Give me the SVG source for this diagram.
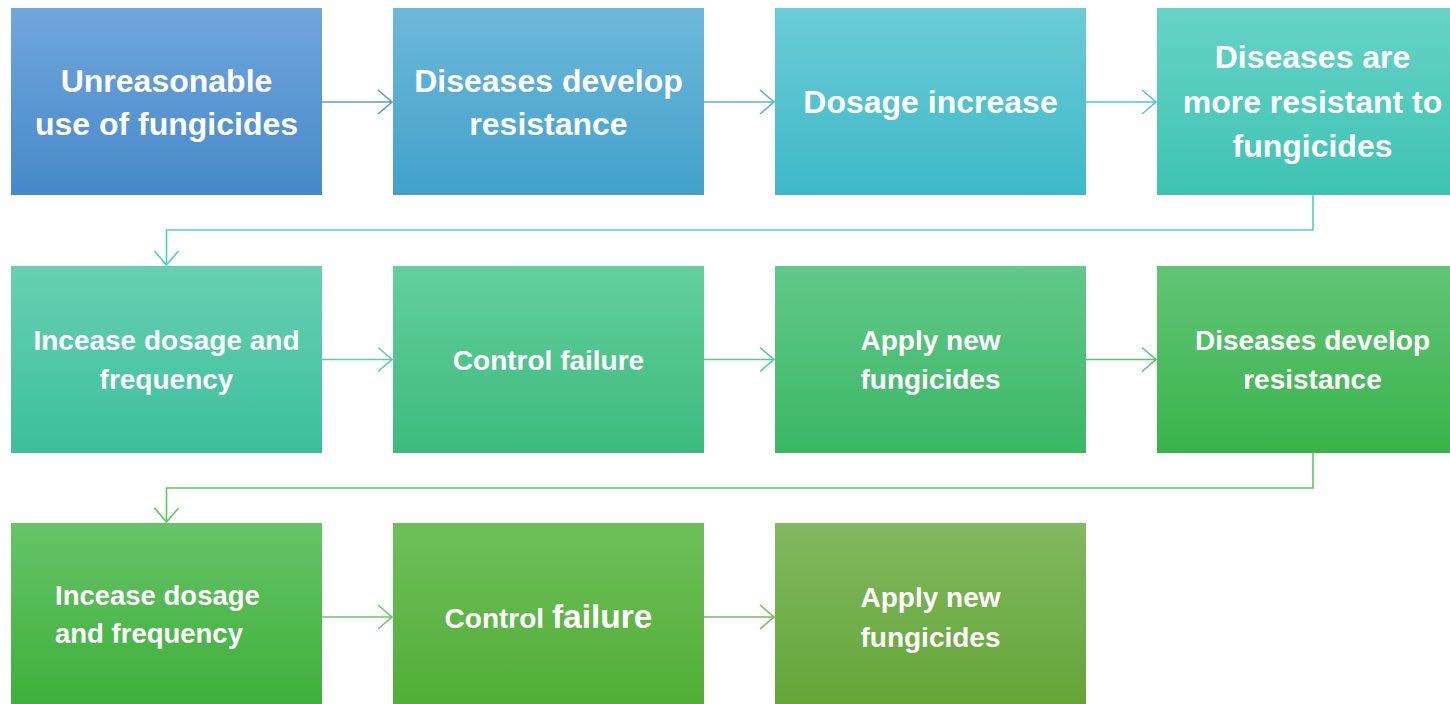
<svg xmlns="http://www.w3.org/2000/svg" width="1450" height="704" viewBox="0 0 1450 704">
<style>
  .t1{font-family:"Liberation Sans",Arial,sans-serif;font-weight:bold;font-size:32px;fill:#ffffff;text-anchor:middle}
  .t2{font-family:"Liberation Sans",Arial,sans-serif;font-weight:bold;font-size:28px;fill:#ffffff;text-anchor:middle}
  .t3{font-family:"Liberation Sans",Arial,sans-serif;font-weight:bold;font-size:27.5px;fill:#ffffff}
  .c{fill:none;stroke-width:1.6;stroke-linejoin:miter}
</style>
<defs>
  <linearGradient id="g1" x1="0" y1="0" x2="0" y2="1"><stop offset="0" stop-color="#70a6dc"/><stop offset="1" stop-color="#4689c8"/></linearGradient>
  <linearGradient id="g2" x1="0" y1="0" x2="0" y2="1"><stop offset="0" stop-color="#6db8da"/><stop offset="1" stop-color="#42a1ca"/></linearGradient>
  <linearGradient id="g3" x1="0" y1="0" x2="0" y2="1"><stop offset="0" stop-color="#6bccd6"/><stop offset="1" stop-color="#3eb8c8"/></linearGradient>
  <linearGradient id="g4" x1="0" y1="0" x2="0" y2="1"><stop offset="0" stop-color="#66d3c7"/><stop offset="1" stop-color="#3ec3b3"/></linearGradient>
  <linearGradient id="g5" x1="0" y1="0" x2="0" y2="1"><stop offset="0" stop-color="#67d0b1"/><stop offset="1" stop-color="#3cbf9b"/></linearGradient>
  <linearGradient id="g6" x1="0" y1="0" x2="0" y2="1"><stop offset="0" stop-color="#64cf9d"/><stop offset="1" stop-color="#3cba7e"/></linearGradient>
  <linearGradient id="g7" x1="0" y1="0" x2="0" y2="1"><stop offset="0" stop-color="#61c98a"/><stop offset="1" stop-color="#3bb763"/></linearGradient>
  <linearGradient id="g8" x1="0" y1="0" x2="0" y2="1"><stop offset="0" stop-color="#61c576"/><stop offset="1" stop-color="#39b34a"/></linearGradient>
  <linearGradient id="g9" x1="0" y1="0" x2="0" y2="1"><stop offset="0" stop-color="#66c468"/><stop offset="1" stop-color="#3caf38"/></linearGradient>
  <linearGradient id="g10" x1="0" y1="0" x2="0" y2="1"><stop offset="0" stop-color="#6ebf59"/><stop offset="1" stop-color="#51ad36"/></linearGradient>
  <linearGradient id="g11" x1="0" y1="0" x2="0" y2="1"><stop offset="0" stop-color="#82b860"/><stop offset="1" stop-color="#63a436"/></linearGradient>
</defs>
<rect width="1450" height="704" fill="#ffffff"/>

<g id="connectors">
  <path class="c" stroke="#5b9bd5" d="M322,102 H392 M378,90 L392,102 L378,114"/>
  <path class="c" stroke="#5ab4d8" d="M704,102 H774 M760,90 L774,102 L760,114"/>
  <path class="c" stroke="#55c5d0" d="M1086,102 H1156 M1142,90 L1156,102 L1142,114"/>
  <path class="c" stroke="#4fd0bf" d="M1313,195 V230 H166.5 V265 M154.5,251 L166.5,265 L178.5,251"/>
  <path class="c" stroke="#5bd0a7" d="M322,359.5 H392 M378,347.5 L392,359.5 L378,371.5"/>
  <path class="c" stroke="#57c98a" d="M704,359.5 H774 M760,347.5 L774,359.5 L760,371.5"/>
  <path class="c" stroke="#58c470" d="M1086,359.5 H1156 M1142,347.5 L1156,359.5 L1142,371.5"/>
  <path class="c" stroke="#5cc760" d="M1313,453 V488 H166.5 V522 M154.5,508 L166.5,522 L178.5,508"/>
  <path class="c" stroke="#6cc46a" d="M322,617 H392 M378,605 L392,617 L378,629"/>
  <path class="c" stroke="#7abb5f" d="M704,617 H774 M760,605 L774,617 L760,629"/>
</g>

<g id="n1"><rect x="11" y="8" width="311" height="187" fill="url(#g1)"/>
  <text class="t1" x="166.5" y="92">Unreasonable</text><text class="t1" x="166.5" y="135">use of fungicides</text></g>
<g id="n2"><rect x="393" y="8" width="311" height="187" fill="url(#g2)"/>
  <text class="t1" x="548.5" y="92">Diseases develop</text><text class="t1" x="548.5" y="135">resistance</text></g>
<g id="n3"><rect x="775" y="8" width="311" height="187" fill="url(#g3)"/>
  <text class="t1" x="930.5" y="113">Dosage increase</text></g>
<g id="n4"><rect x="1157" y="8" width="311" height="187" fill="url(#g4)"/>
  <text class="t1" x="1312.5" y="68">Diseases are</text><text class="t1" x="1312.5" y="113">more resistant to</text><text class="t1" x="1312.5" y="157">fungicides</text></g>

<g id="n5"><rect x="11" y="266" width="311" height="187" fill="url(#g5)"/>
  <text class="t2" x="166.5" y="350">Incease dosage and</text><text class="t2" x="166.5" y="389">frequency</text></g>
<g id="n6"><rect x="393" y="266" width="311" height="187" fill="url(#g6)"/>
  <text class="t2" x="548.5" y="370">Control failure</text></g>
<g id="n7"><rect x="775" y="266" width="311" height="187" fill="url(#g7)"/>
  <text class="t2" x="930.5" y="350">Apply new</text><text class="t2" x="930.5" y="389">fungicides</text></g>
<g id="n8"><rect x="1157" y="266" width="311" height="187" fill="url(#g8)"/>
  <text class="t2" x="1312.5" y="350">Diseases develop</text><text class="t2" x="1312.5" y="389">resistance</text></g>

<g id="n9"><rect x="11" y="523" width="311" height="187" fill="url(#g9)"/>
  <text class="t3" x="55" y="605">Incease dosage</text><text class="t3" x="55" y="643">and frequency</text></g>
<g id="n10"><rect x="393" y="523" width="311" height="187" fill="url(#g10)"/>
  <text class="t2" x="548.5" y="628"><tspan>Control </tspan><tspan style="font-size:33.5px">failure</tspan></text></g>
<g id="n11"><rect x="775" y="523" width="311" height="187" fill="url(#g11)"/>
  <text class="t2" x="930.5" y="607">Apply new</text><text class="t2" x="930.5" y="647">fungicides</text></g>
</svg>
